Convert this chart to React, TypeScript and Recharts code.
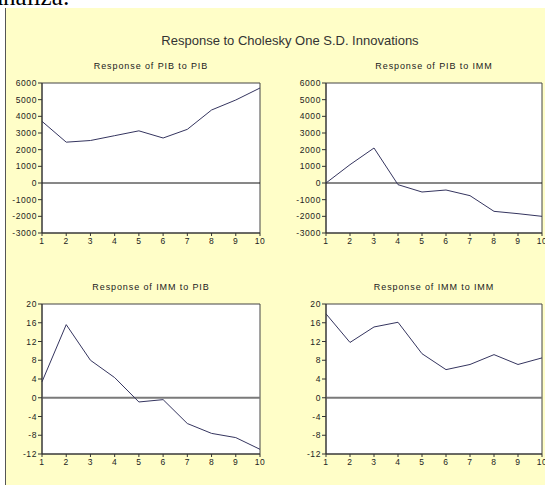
import React from "react";
import { LineChart, Line, XAxis, YAxis, ReferenceLine, ReferenceArea } from "recharts";

const periods = [1, 2, 3, 4, 5, 6, 7, 8, 9, 10];
const pibToPib = [3700, 2450, 2550, 2840, 3130, 2700, 3220, 4380, 4980, 5700];
const pibToImm = [0, 1100, 2100, -100, -540, -420, -760, -1700, -1840, -2000];
const immToPib = [3.4, 15.6, 8.0, 4.3, -0.9, -0.4, -5.5, -7.6, -8.5, -11.0];
const immToImm = [17.9, 11.8, 15.1, 16.1, 9.4, 6.0, 7.1, 9.2, 7.1, 8.5];

const pibTicks = [-3000, -2000, -1000, 0, 1000, 2000, 3000, 4000, 5000, 6000];
const immTicks = [-12, -8, -4, 0, 4, 8, 12, 16, 20];

const FONT = "'Liberation Sans', Arial, sans-serif";
const tickStyle = { fontSize: 8.5, fill: "#222", fontFamily: FONT, letterSpacing: 0.6 };

type PanelProps = {
  title: string;
  values: number[];
  ticks: number[];
  left: number;
  top: number;
  width: number;
  yWidth: number;
  right: number;
  zeroColor: string;
  zeroWidth: number;
};

function Panel({ title, values, ticks, left, top, width, yWidth, right, zeroColor, zeroWidth }: PanelProps) {
  const data = periods.map((p, i) => ({ p, v: values[i] }));
  const lo = ticks[0];
  const hi = ticks[ticks.length - 1];
  const plotCenter = yWidth + (width - yWidth - right) / 2;
  return (
    <div style={{ position: "absolute", left, top, width, height: 180 }}>
      <div
        style={{
          position: "absolute",
          top: -14,
          left: plotCenter - 100,
          width: 200,
          textAlign: "center",
          fontFamily: FONT,
          fontSize: 9,
          letterSpacing: 0.9,
          color: "#222",
        }}
      >
        {title}
      </div>
      <LineChart width={width} height={180} data={data} margin={{ top: 8, right, left: 0, bottom: 0 }}>
        <ReferenceArea x1={1} x2={10} y1={lo} y2={hi} fill="#fff" fillOpacity={1} stroke="#444" strokeWidth={1} />
        <XAxis
          dataKey="p"
          type="number"
          domain={[1, 10]}
          ticks={periods}
          interval={0}
          height={22}
          tickSize={3}
          tickMargin={2}
          stroke="#333"
          tick={tickStyle}
        />
        <YAxis
          type="number"
          domain={[lo, hi]}
          ticks={ticks}
          interval={0}
          width={yWidth}
          tickSize={4}
          tickMargin={1}
          stroke="#333"
          tick={tickStyle}
        />
        <ReferenceLine y={0} stroke={zeroColor} strokeWidth={zeroWidth} />
        <Line type="linear" dataKey="v" stroke="#35355f" strokeWidth={1} dot={false} isAnimationActive={false} />
      </LineChart>
    </div>
  );
}

export default function App() {
  return (
    <div style={{ position: "absolute", left: 0, top: 0, width: 545, height: 485, background: "#fff", overflow: "hidden" }}>
      <div style={{ position: "absolute", left: 0, top: 0, width: 545, height: 8, overflow: "hidden" }}>
        <div style={{ position: "absolute", left: -8, top: -17, fontFamily: "'Liberation Serif', serif", fontSize: 25, color: "#000", whiteSpace: "nowrap" }}>
          analiza:
        </div>
      </div>
      <div style={{ position: "absolute", left: 5, top: 8, width: 540, height: 477, background: "#FFFEC8", borderLeft: "1px solid #555" }} />
      <div
        style={{
          position: "absolute",
          top: 33,
          left: 90,
          width: 400,
          textAlign: "center",
          fontFamily: FONT,
          fontSize: 13,
          color: "#333",
        }}
      >
        Response to Cholesky One S.D. Innovations
      </div>
      <Panel title="Response of PIB to PIB" values={pibToPib} ticks={pibTicks} left={0} top={75} width={270} yWidth={42} right={10} zeroColor="#111" zeroWidth={1} />
      <Panel title="Response of PIB to IMM" values={pibToImm} ticks={pibTicks} left={270} top={75} width={275} yWidth={56} right={3} zeroColor="#111" zeroWidth={1} />
      <Panel title="Response of IMM to PIB" values={immToPib} ticks={immTicks} left={0} top={296} width={270} yWidth={42} right={10} zeroColor="#7a7a7a" zeroWidth={2} />
      <Panel title="Response of IMM to IMM" values={immToImm} ticks={immTicks} left={270} top={296} width={275} yWidth={56} right={3} zeroColor="#7a7a7a" zeroWidth={2} />
    </div>
  );
}
